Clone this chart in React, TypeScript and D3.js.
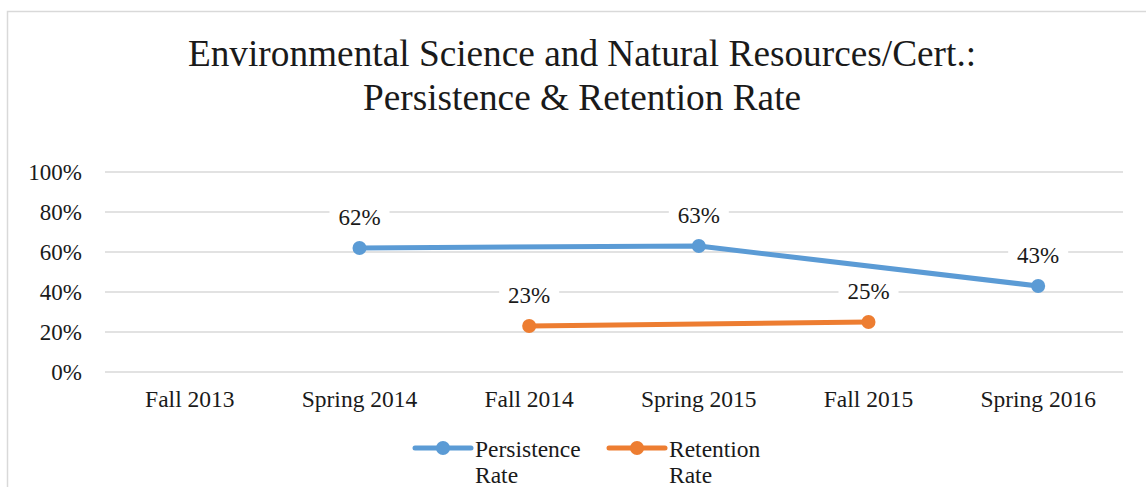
import React from "react";
import * as d3 from "d3";

const categories = ["Fall 2013", "Spring 2014", "Fall 2014", "Spring 2015", "Fall 2015", "Spring 2016"];
const persistenceRate: (number | null)[] = [null, 0.62, null, 0.63, null, 0.43];
const retentionRate: (number | null)[] = [null, null, 0.23, null, 0.25, null];
const yTicks = [0, 0.2, 0.4, 0.6, 0.8, 1];
const titleLines = ["Environmental Science and Natural Resources/Cert.:", "Persistence & Retention Rate"];

const W = 1146;
const H = 487;
const FONT = "'Liberation Serif', 'Times New Roman', serif";
const TEXT = "#1a1a1a";

const series = [
  { name: ["Persistence", "Rate"], values: persistenceRate, color: "#5B9BD5" },
  { name: ["Retention", "Rate"], values: retentionRate, color: "#ED7D31" },
];

export default function App() {
  const x = d3.scaleBand<string>().domain(categories).range([105, 1123]).padding(0);
  const y = d3.scaleLinear().domain([0, 1]).range([372, 172]);
  const cx = (c: string) => (x(c) ?? 0) + x.bandwidth() / 2;
  const fmt = d3.format(".0%");

  return (
    <svg
      width={W}
      height={H}
      style={{ position: "fixed", left: 0, top: 0, background: "#fff" }}
      fontFamily={FONT}
    >
      <rect x={7.5} y={11.5} width={1160} height={500} fill="#fff" stroke="#D9D9D9" strokeWidth={1.5} />

      {titleLines.map((t, i) => (
        <text key={t} x={582} y={66 + i * 44} textAnchor="middle" fontSize={37.3} fill={TEXT}>
          {t}
        </text>
      ))}

      {yTicks.map((t) => (
        <g key={t}>
          <line x1={105} x2={1123} y1={y(t)} y2={y(t)} stroke="#D9D9D9" strokeWidth={1.5} />
          <text x={82} y={y(t)} dy="0.34em" textAnchor="end" fontSize={23} fill={TEXT}>
            {fmt(t)}
          </text>
        </g>
      ))}

      {categories.map((c) => (
        <text key={c} x={cx(c)} y={407} textAnchor="middle" fontSize={23.5} fill={TEXT}>
          {c}
        </text>
      ))}

      {series.map((s) => {
        const pts = categories
          .map((c, i) => ({ c, v: s.values[i] }))
          .filter((d) => d.v !== null) as { c: string; v: number }[];
        const line = d3
          .line<{ c: string; v: number }>()
          .x((d) => cx(d.c))
          .y((d) => y(d.v));
        return (
          <g key={s.name[0]}>
            <path d={line(pts) ?? ""} fill="none" stroke={s.color} strokeWidth={5} strokeLinejoin="round" strokeLinecap="round" />
            {pts.map((d) => (
              <circle key={d.c} cx={cx(d.c)} cy={y(d.v)} r={7} fill={s.color} />
            ))}
            {pts.map((d) => (
              <g key={"l" + d.c}>
                <rect x={cx(d.c) - 30} y={y(d.v) - 45} width={60} height={30} fill="#fff" />
                <text x={cx(d.c)} y={y(d.v) - 23} textAnchor="middle" fontSize={23} fill={TEXT}>
                  {fmt(d.v)}
                </text>
              </g>
            ))}
          </g>
        );
      })}

      {series.map((s, i) => {
        const lx = 415 + i * 194;
        return (
          <g key={"leg" + i}>
            <line x1={lx} x2={lx + 56} y1={448} y2={448} stroke={s.color} strokeWidth={5} strokeLinecap="round" />
            <circle cx={lx + 28} cy={448} r={7} fill={s.color} />
            {s.name.map((n, j) => (
              <text key={n} x={lx + 60} y={457 + j * 26} fontSize={23.5} fill={TEXT}>
                {n}
              </text>
            ))}
          </g>
        );
      })}
    </svg>
  );
}
